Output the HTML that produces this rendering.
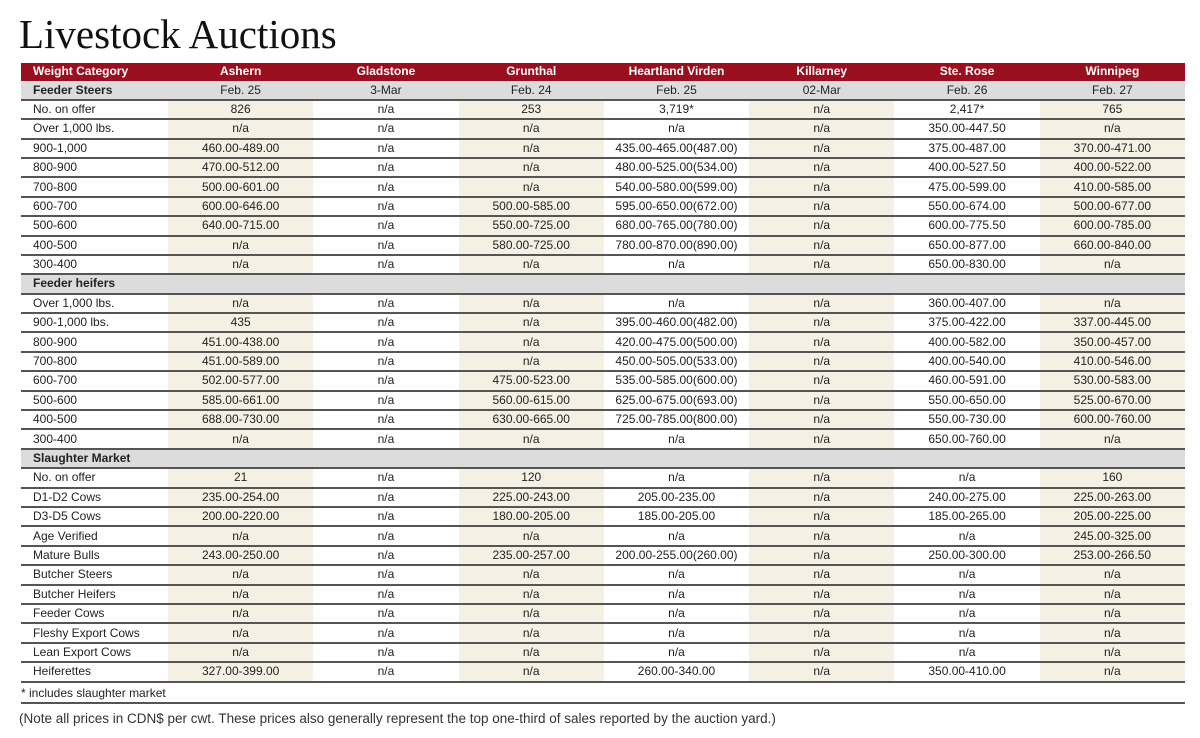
<!DOCTYPE html>
<html><head><meta charset="utf-8"><style>
body{margin:0;width:1200px;height:738px;background:#fff;font-family:"Liberation Sans Narrow","Liberation Sans",sans-serif;color:#222;overflow:hidden;position:relative}
h1{position:absolute;left:19px;top:10px;margin:0;font-family:"Liberation Serif",serif;font-weight:normal;font-size:41px;color:#111}
table{position:absolute;left:21px;top:63px;border-collapse:collapse;width:1164px;table-layout:fixed}
td{height:17.4px;padding:0;font-size:12px;text-align:center;border-bottom:2px solid #555;white-space:nowrap;line-height:17px}
td:first-child{text-align:left;padding-left:12px}
tr.h td{background:#9a0f1f;color:#fff;font-weight:bold;border-bottom:1px solid #9a0f1f}
tr.s td{background:#dcdcdc;font-weight:normal}
tr.s td:first-child{font-weight:bold}
tr:not(.h):not(.s) td:nth-child(2),tr:not(.h):not(.s) td:nth-child(4),tr:not(.h):not(.s) td:nth-child(6),tr:not(.h):not(.s) td:nth-child(8){background:#f4f0e3}
.fn{position:absolute;left:21px;top:686px;font-size:12px}
.ln{position:absolute;left:21px;top:702px;width:1164px;border-top:2px solid #555}
.nt{position:absolute;left:19px;top:711px;font-size:13.5px;color:#333}
</style></head><body>
<h1>Livestock Auctions</h1>
<table>
<colgroup><col style="width:147px"><col><col><col><col><col><col><col></colgroup>
<tr class="h"><td>Weight Category</td><td>Ashern</td><td>Gladstone</td><td>Grunthal</td><td>Heartland Virden</td><td>Killarney</td><td>Ste. Rose</td><td>Winnipeg</td></tr>
<tr class="s"><td>Feeder Steers</td><td>Feb. 25</td><td>3-Mar</td><td>Feb. 24</td><td>Feb. 25</td><td>02-Mar</td><td>Feb. 26</td><td>Feb. 27</td></tr>
<tr><td>No. on offer</td><td>826</td><td>n/a</td><td>253</td><td>3,719*</td><td>n/a</td><td>2,417*</td><td>765</td></tr>
<tr><td>Over 1,000 lbs.</td><td>n/a</td><td>n/a</td><td>n/a</td><td>n/a</td><td>n/a</td><td>350.00-447.50</td><td>n/a</td></tr>
<tr><td>900-1,000</td><td>460.00-489.00</td><td>n/a</td><td>n/a</td><td>435.00-465.00(487.00)</td><td>n/a</td><td>375.00-487.00</td><td>370.00-471.00</td></tr>
<tr><td>800-900</td><td>470.00-512.00</td><td>n/a</td><td>n/a</td><td>480.00-525.00(534.00)</td><td>n/a</td><td>400.00-527.50</td><td>400.00-522.00</td></tr>
<tr><td>700-800</td><td>500.00-601.00</td><td>n/a</td><td>n/a</td><td>540.00-580.00(599.00)</td><td>n/a</td><td>475.00-599.00</td><td>410.00-585.00</td></tr>
<tr><td>600-700</td><td>600.00-646.00</td><td>n/a</td><td>500.00-585.00</td><td>595.00-650.00(672.00)</td><td>n/a</td><td>550.00-674.00</td><td>500.00-677.00</td></tr>
<tr><td>500-600</td><td>640.00-715.00</td><td>n/a</td><td>550.00-725.00</td><td>680.00-765.00(780.00)</td><td>n/a</td><td>600.00-775.50</td><td>600.00-785.00</td></tr>
<tr><td>400-500</td><td>n/a</td><td>n/a</td><td>580.00-725.00</td><td>780.00-870.00(890.00)</td><td>n/a</td><td>650.00-877.00</td><td>660.00-840.00</td></tr>
<tr><td>300-400</td><td>n/a</td><td>n/a</td><td>n/a</td><td>n/a</td><td>n/a</td><td>650.00-830.00</td><td>n/a</td></tr>
<tr class="s"><td>Feeder heifers</td><td></td><td></td><td></td><td></td><td></td><td></td><td></td></tr>
<tr><td>Over 1,000 lbs.</td><td>n/a</td><td>n/a</td><td>n/a</td><td>n/a</td><td>n/a</td><td>360.00-407.00</td><td>n/a</td></tr>
<tr><td>900-1,000 lbs.</td><td>435</td><td>n/a</td><td>n/a</td><td>395.00-460.00(482.00)</td><td>n/a</td><td>375.00-422.00</td><td>337.00-445.00</td></tr>
<tr><td>800-900</td><td>451.00-438.00</td><td>n/a</td><td>n/a</td><td>420.00-475.00(500.00)</td><td>n/a</td><td>400.00-582.00</td><td>350.00-457.00</td></tr>
<tr><td>700-800</td><td>451.00-589.00</td><td>n/a</td><td>n/a</td><td>450.00-505.00(533.00)</td><td>n/a</td><td>400.00-540.00</td><td>410.00-546.00</td></tr>
<tr><td>600-700</td><td>502.00-577.00</td><td>n/a</td><td>475.00-523.00</td><td>535.00-585.00(600.00)</td><td>n/a</td><td>460.00-591.00</td><td>530.00-583.00</td></tr>
<tr><td>500-600</td><td>585.00-661.00</td><td>n/a</td><td>560.00-615.00</td><td>625.00-675.00(693.00)</td><td>n/a</td><td>550.00-650.00</td><td>525.00-670.00</td></tr>
<tr><td>400-500</td><td>688.00-730.00</td><td>n/a</td><td>630.00-665.00</td><td>725.00-785.00(800.00)</td><td>n/a</td><td>550.00-730.00</td><td>600.00-760.00</td></tr>
<tr><td>300-400</td><td>n/a</td><td>n/a</td><td>n/a</td><td>n/a</td><td>n/a</td><td>650.00-760.00</td><td>n/a</td></tr>
<tr class="s"><td>Slaughter Market</td><td></td><td></td><td></td><td></td><td></td><td></td><td></td></tr>
<tr><td>No. on offer</td><td>21</td><td>n/a</td><td>120</td><td>n/a</td><td>n/a</td><td>n/a</td><td>160</td></tr>
<tr><td>D1-D2 Cows</td><td>235.00-254.00</td><td>n/a</td><td>225.00-243.00</td><td>205.00-235.00</td><td>n/a</td><td>240.00-275.00</td><td>225.00-263.00</td></tr>
<tr><td>D3-D5 Cows</td><td>200.00-220.00</td><td>n/a</td><td>180.00-205.00</td><td>185.00-205.00</td><td>n/a</td><td>185.00-265.00</td><td>205.00-225.00</td></tr>
<tr><td>Age Verified</td><td>n/a</td><td>n/a</td><td>n/a</td><td>n/a</td><td>n/a</td><td>n/a</td><td>245.00-325.00</td></tr>
<tr><td>Mature Bulls</td><td>243.00-250.00</td><td>n/a</td><td>235.00-257.00</td><td>200.00-255.00(260.00)</td><td>n/a</td><td>250.00-300.00</td><td>253.00-266.50</td></tr>
<tr><td>Butcher Steers</td><td>n/a</td><td>n/a</td><td>n/a</td><td>n/a</td><td>n/a</td><td>n/a</td><td>n/a</td></tr>
<tr><td>Butcher Heifers</td><td>n/a</td><td>n/a</td><td>n/a</td><td>n/a</td><td>n/a</td><td>n/a</td><td>n/a</td></tr>
<tr><td>Feeder Cows</td><td>n/a</td><td>n/a</td><td>n/a</td><td>n/a</td><td>n/a</td><td>n/a</td><td>n/a</td></tr>
<tr><td>Fleshy Export Cows</td><td>n/a</td><td>n/a</td><td>n/a</td><td>n/a</td><td>n/a</td><td>n/a</td><td>n/a</td></tr>
<tr><td>Lean Export Cows</td><td>n/a</td><td>n/a</td><td>n/a</td><td>n/a</td><td>n/a</td><td>n/a</td><td>n/a</td></tr>
<tr><td>Heiferettes</td><td>327.00-399.00</td><td>n/a</td><td>n/a</td><td>260.00-340.00</td><td>n/a</td><td>350.00-410.00</td><td>n/a</td></tr>
</table>
<div class="fn">* includes slaughter market</div>
<div class="ln"></div>
<div class="nt">(Note all prices in CDN$ per cwt. These prices also generally represent the top one-third of sales reported by the auction yard.)</div>
</body></html>
